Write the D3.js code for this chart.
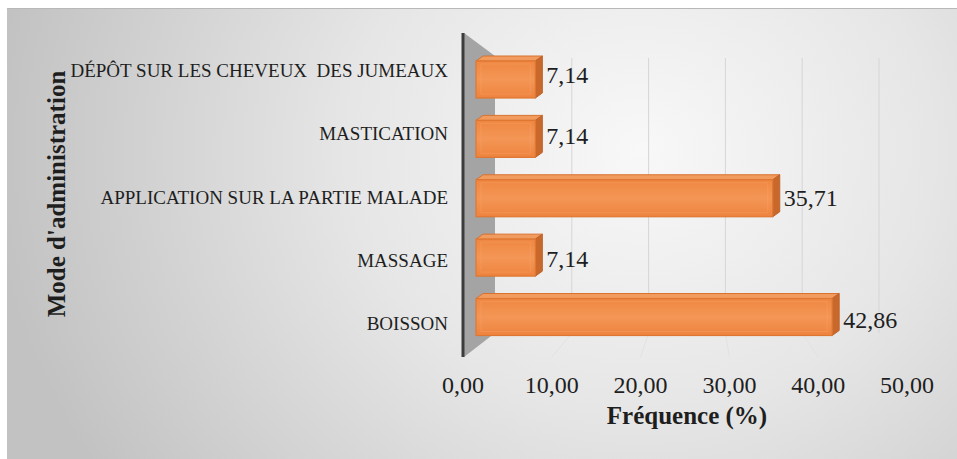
<!DOCTYPE html>
<html>
<head>
<meta charset="utf-8">
<script src="https://cdn.jsdelivr.net/npm/d3@7"></script>
<style>
  body { margin: 0; background: #fff; }
  svg { display: block; }
  text { font-family: "Liberation Serif", "Times New Roman", serif; fill: #1e1e1e; }
</style>
</head>
<body>
<svg id="chart" width="957" height="459"></svg>
<script>
// Mode d'administration — fréquences (%)
const categories = [
  "DÉPÔT SUR LES CHEVEUX  DES JUMEAUX",
  "MASTICATION",
  "APPLICATION SUR LA PARTIE MALADE",
  "MASSAGE",
  "BOISSON"
];
const values = [7.14, 7.14, 35.71, 7.14, 42.86];
const xTicks = [0, 10, 20, 30, 40, 50];
const xTitle = "Fréquence (%)";
const yTitle = "Mode d'administration";

const fr = d3.formatLocale({ decimal: ",", thousands: " ", grouping: [3], currency: ["", " €"] });
const fmt = fr.format(".2f");

const svg = d3.select("#chart");
const defs = svg.append("defs");

// Chart area background
const bg = defs.append("radialGradient").attr("id", "bgGrad")
  .attr("gradientUnits", "userSpaceOnUse")
  .attr("cx", 640).attr("cy", 150).attr("r", 650)
  .attr("gradientTransform", "translate(640,150) scale(1,0.9) translate(-640,-150)");
bg.append("stop").attr("offset", "0").attr("stop-color", "#f8f8f8");
bg.append("stop").attr("offset", "0.45").attr("stop-color", "#e6e6e6");
bg.append("stop").attr("offset", "1").attr("stop-color", "#c2c2c2");

const barGrad = defs.append("linearGradient").attr("id", "barFront")
  .attr("x1", 0).attr("y1", 0).attr("x2", 0).attr("y2", 1);
barGrad.append("stop").attr("offset", "0").attr("stop-color", "#ef8741");
barGrad.append("stop").attr("offset", "0.5").attr("stop-color", "#f49656");
barGrad.append("stop").attr("offset", "1").attr("stop-color", "#ee833e");

svg.append("rect").attr("x", 7).attr("y", 8).attr("width", 950).attr("height", 451)
  .attr("fill", "url(#bgGrad)");
svg.append("line").attr("x1", 7).attr("x2", 957).attr("y1", 8.5).attr("y2", 8.5)
  .attr("stroke", "#b8b8b8").attr("stroke-width", 1);

// Scales: front plane (axis labels), back wall (gridlines), bar front faces
const xFront = d3.scaleLinear().domain([0, 50]).range([463, 907]);
const xBack = d3.scaleLinear().domain([0, 50]).range([495, 879]);
const xBar = d3.scaleLinear().domain([0, 50]).range([476, 891.5]);
const yBar = d3.scalePoint().domain(categories).range([79.5, 317]);
const yCat = d3.scalePoint().domain(categories).range([71, 324]);
const yVal = d3.scalePoint().domain(categories).range([75, 320]);

const wallTop = 56, wallBottom = 333, frontTop = 33, frontBottom = 357;

// Back-wall gridlines and floor lines
const grid = svg.append("g");
xTicks.filter(d => d > 0).forEach(d => {
  grid.append("line")
    .attr("x1", xBack(d)).attr("x2", xBack(d))
    .attr("y1", wallTop + 2).attr("y2", wallBottom)
    .attr("stroke", "#d6d6d6").attr("stroke-width", 1);
  grid.append("line")
    .attr("x1", xBack(d)).attr("x2", xFront(d))
    .attr("y1", wallBottom).attr("y2", frontBottom)
    .attr("stroke", "#e2e2e2").attr("stroke-width", 1);
});

// Side wall
svg.append("path")
  .attr("d", `M${xFront(0) + 1},${frontTop} L${xBack(0)},${wallTop} L${xBack(0)},${wallBottom} L${xFront(0) + 1},${frontBottom} Z`)
  .attr("fill", "#a4a4a4");
svg.append("line")
  .attr("x1", xFront(0)).attr("x2", xFront(0))
  .attr("y1", frontTop).attr("y2", frontBottom)
  .attr("stroke", "#3c3c3c").attr("stroke-width", 3);

// 3D bars
const barH = 37, dx = 7, dy = 5;
const bars = svg.append("g").selectAll("g").data(categories).join("g");
bars.each(function (c, i) {
  const g = d3.select(this);
  const x0 = xBar(0), x1 = xBar(values[i]);
  const yt = yBar(c) - barH / 2, yb = yBar(c) + barH / 2;
  g.append("path")
    .attr("d", `M${x0},${yt} L${x0 + dx},${yt - dy} L${x1 + dx},${yt - dy} L${x1},${yt} Z`)
    .attr("fill", "#f29b5e").attr("stroke", "#d8722e").attr("stroke-width", 1);
  g.append("path")
    .attr("d", `M${x1},${yt} L${x1 + dx},${yt - dy} L${x1 + dx},${yb - dy} L${x1},${yb} Z`)
    .attr("fill", "#c8692b").attr("stroke", "#c0622a").attr("stroke-width", 1);
  g.append("rect")
    .attr("x", x0).attr("y", yt).attr("width", x1 - x0).attr("height", barH)
    .attr("fill", "url(#barFront)").attr("stroke", "#de7733").attr("stroke-width", 1.2);
  g.append("rect")
    .attr("x", x0 + 5).attr("y", yt + 3).attr("width", Math.max(0, x1 - x0 - 10)).attr("height", barH - 7)
    .attr("fill", "none").attr("stroke", "#f7ab78").attr("stroke-opacity", 0.3).attr("stroke-width", 1);
  g.append("text")
    .attr("x", x1 + dx + 4).attr("y", yVal(c) + 8)
    .attr("font-size", 24)
    .text(fmt(values[i]));
});

// Category labels
svg.append("g").selectAll("text").data(categories).join("text")
  .attr("x", 448).attr("y", d => yCat(d) + 6)
  .attr("text-anchor", "end").attr("font-size", 19)
  .style("white-space", "pre")
  .text(d => d);

// X axis tick labels
svg.append("g").selectAll("text").data(xTicks).join("text")
  .attr("x", d => xFront(d)).attr("y", 393)
  .attr("text-anchor", "middle").attr("font-size", 24)
  .text(d => fmt(d));

// Axis titles
svg.append("text")
  .attr("x", 687).attr("y", 424)
  .attr("text-anchor", "middle").attr("font-size", 25).attr("font-weight", "bold")
  .text(xTitle);
svg.append("text")
  .attr("transform", "translate(65,194) rotate(-90)")
  .attr("text-anchor", "middle").attr("font-size", 25).attr("font-weight", "bold")
  .text(yTitle);
</script>
</body>
</html>
